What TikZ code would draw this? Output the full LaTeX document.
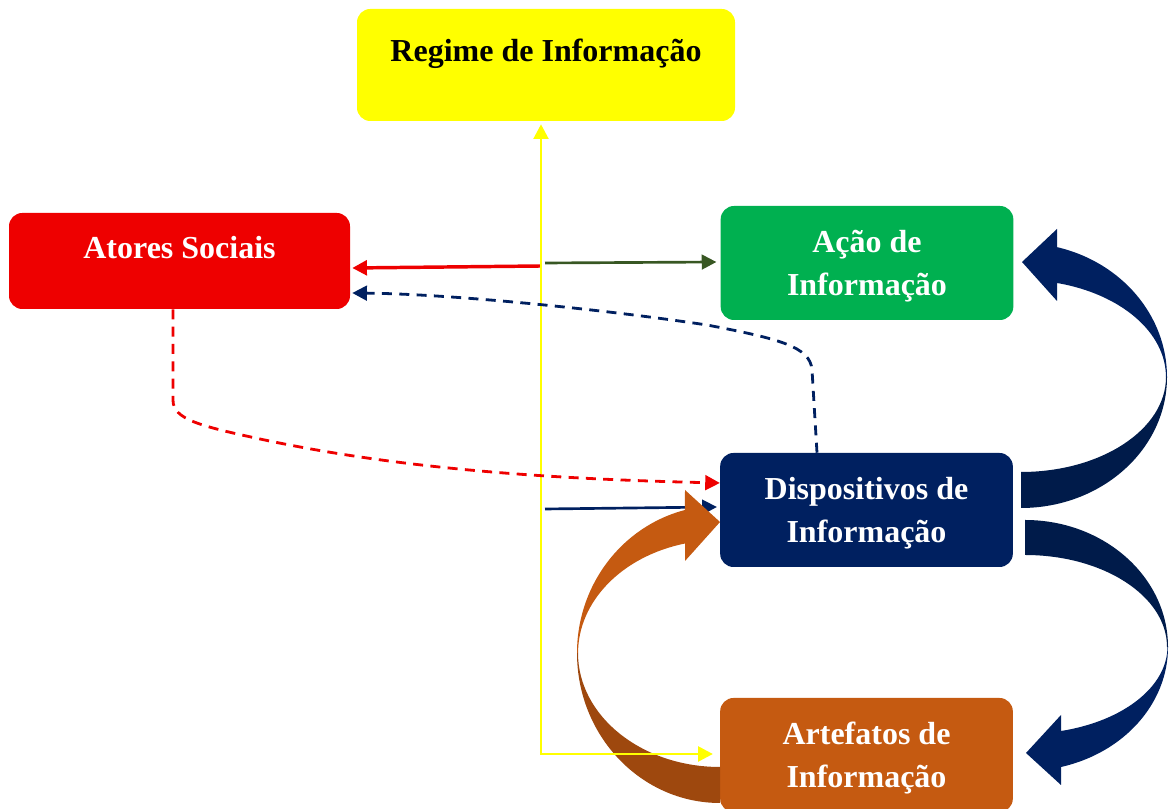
\documentclass[tikz,border=0pt]{standalone}
\usepackage{fontspec}
\setmainfont{Liberation Serif}
\usetikzlibrary{calc,arrows.meta}

\definecolor{boxyellow}{RGB}{255,255,0}
\definecolor{boxred}{RGB}{238,0,0}
\definecolor{boxgreen}{RGB}{0,176,80}
\definecolor{navy}{RGB}{0,32,96}
\definecolor{navydark}{RGB}{0,27,74}
\definecolor{rust}{RGB}{197,90,17}
\definecolor{rustdark}{RGB}{158,72,14}
\definecolor{olive}{RGB}{56,87,35}
\newcommand{\tallstrut}{\rule{0pt}{21.5pt}}

\begin{document}
\begin{tikzpicture}[x=0.75pt,y=0.75pt,
    box/.style={rounded corners=10pt,inner sep=0pt,align=center,text=white,
      font=\bfseries\fontsize{24}{32}\selectfont},
    twoline/.style={box,minimum width=219.5pt,minimum height=85.5pt},
    tip/.style={-{Triangle[length=11pt,width=11pt]}},
    dashline/.style={line width=2.1pt,dash pattern=on 7.5pt off 5.5pt,tip}]
        \useasboundingbox (0,0) rectangle (1171,809);
        \node[box,fill=boxyellow,text=black,minimum width=283.5pt,minimum height=84pt,text height=17pt,text depth=21.5pt] (regime) at (546,744) {Regime de Informação};
        \node[box,fill=boxred,minimum width=255.75pt,minimum height=72pt,text height=17pt,text depth=20pt] (atores) at (179.5,548) {Atores Sociais};
        \node[twoline,fill=boxgreen] (acao) at (867,546) {\tallstrut Ação de\\Informação};
        \node[twoline,fill=navy] (disp) at (866.5,299) {\tallstrut Dispositivos de\\Informação};
        \node[twoline,fill=rust] (artef) at (866.5,54) {\tallstrut Artefatos de\\Informação};
        \coordinate (rstart) at (541,543);
        \coordinate (gstart) at (545,546);
        \coordinate (nstart) at (545,300);
        \draw[boxred,line width=2.6pt,tip] (rstart) -- ($(atores.east)+(2,-7)$);
        \draw[olive,line width=2pt,tip] (gstart) -- ($(acao.west)+(-4,1)$);
        \draw[navy,line width=2pt,tip] (nstart) -- ($(disp.west)+(-3,3)$);
        \fill[rustdark] (577,156) arc[start angle=180,end angle=270,x radius=143,y radius=150] -- (720,42) arc[start angle=270,end angle=180,x radius=142,y radius=114] -- cycle;
        \fill[rust] (577,156) arc[start angle=180,end angle=104.2,x radius=143,y radius=147.5] -- (685,319) -- (720,287) -- (685,248) -- (685,265.5) arc[start angle=104.3,end angle=180,x radius=142,y radius=113] -- cycle;
        \fill[navydark] (1167,432) arc[start angle=0,end angle=-90,x radius=146,y radius=131] -- (1021,337) arc[start angle=-90,end angle=0,x radius=145,y radius=95] -- cycle;
        \fill[navy] (1167,432) arc[start angle=0,end angle=75.7,x radius=146,y radius=134] -- (1057,580) -- (1022,547) -- (1057,508) -- (1057,526) arc[start angle=75.6,end angle=0,x radius=145,y radius=97] -- cycle;
        \fill[navydark] (1168,162) arc[start angle=0,end angle=90,x radius=143,y radius=127] -- (1025,254) arc[start angle=90,end angle=0,x radius=142,y radius=92] -- cycle;
        \fill[navy] (1168,162) arc[start angle=0,end angle=-75.4,x radius=143,y radius=124] -- (1061,24) -- (1026,56) -- (1061,94) -- (1061,78) arc[start angle=-75.5,end angle=0,x radius=142,y radius=87] -- cycle;
        \draw[boxyellow,line width=2.2pt,{Triangle[length=11pt,width=11pt]}-{Triangle[length=11pt,width=11pt]}] ($(regime.south)+(-5,-3)$) |- ($(artef.west)+(-7,1)$);
        \draw[navy,dashline] ($(disp.north)+(-49.5,0)$) -- ++(-5,83) .. controls +(-2,23) and (780,470) .. (707,484) .. controls (600,500) and (450,515) .. ($(atores.east)+(2,-32)$);
        \draw[boxred,dashline] ($(atores.south)+(-6.5,0)$) -- ++(0,-91) .. controls +(0,-19) and (200,383) .. (260,370) .. controls (400,340) and (550,330) .. ($(disp.west)+(0,27)$);
\end{tikzpicture}
\end{document}
